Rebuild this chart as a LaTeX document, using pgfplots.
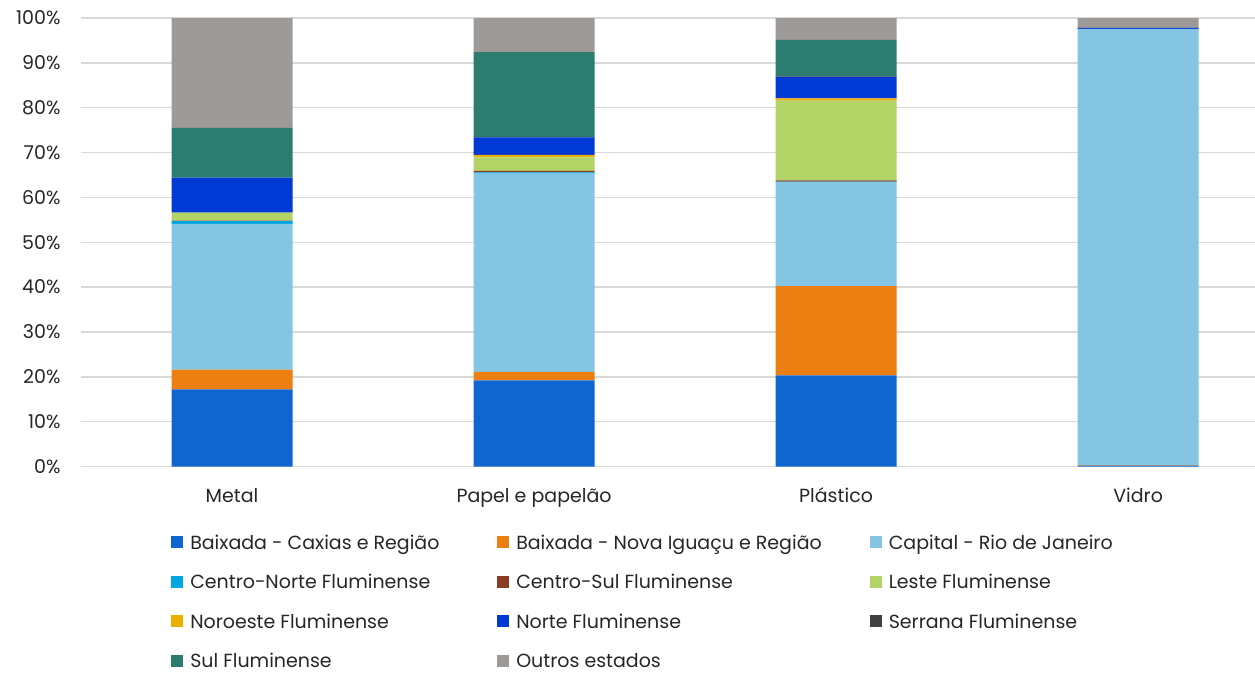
\documentclass[border=0pt]{standalone}
\usepackage{pgfplots}
\usepackage{pgfplotstable}
\pgfplotsset{compat=1.18}
\usepackage{fontspec}
\setmainfont{Poppins}
\definecolor{cCax}{HTML}{1066D0}
\definecolor{cNI}{HTML}{EB7F12}
\definecolor{cCap}{HTML}{84C5E3}
\definecolor{cCN}{HTML}{00A6E0}
\definecolor{cCS}{HTML}{8B3A23}
\definecolor{cLes}{HTML}{B2D366}
\definecolor{cNoro}{HTML}{EBB000}
\definecolor{cNor}{HTML}{0039D3}
\definecolor{cSer}{HTML}{404040}
\definecolor{cSul}{HTML}{2C7D70}
\definecolor{cOut}{HTML}{9E9A98}
\definecolor{gridgray}{HTML}{D9D9D9}
\definecolor{txt}{HTML}{262626}
\pgfplotstableread{
x Cax NI Cap CN CS Les Noro Nor Ser Sul Out
0 17.2 4.4 32.5 0.6 0.1 1.8 0.0 7.8 0.0 11.1 24.5
1 19.2 1.9 44.2 0.3 0.3 3.0 0.6 3.9 0.1 18.9 7.6
2 20.3 19.9 23.2 0.1 0.3 17.8 0.5 4.8 0.1 8.1 4.9
3 0.2 0.1 97.3 0.0 0.0 0.0 0.0 0.2 0.0 0.0 2.2
}\data
\begin{document}
\begin{tikzpicture}
\path[use as bounding box] (-81pt,-206.5pt) rectangle (1174pt,466.5pt);
\begin{axis}[
  scale only axis, width=1174pt, height=448.5pt,
  ybar stacked, bar width=121pt,
  xmin=-0.5, xmax=3.387, ymin=0, ymax=100,
  xtick={0,1,2,3}, xticklabels={Metal, Papel e papelão, Plástico, Vidro},
  ytick={0,10,...,100}, yticklabel={\pgfmathprintnumber{\tick}\%},
  /pgf/number format/assume math mode=true,
  ymajorgrids, grid style={color=gridgray, line width=1.5pt},
  axis line style={draw=none},
  major tick length=0pt,
  tick label style={font=\fontsize{19}{23}\selectfont, text=txt},
  yticklabel style={xshift=-17pt},
  xticklabel style={yshift=-18pt},
  legend columns=3,
  legend cell align=left,
  legend image code/.code={\fill[#1,draw=none] (0pt,-6pt) rectangle (12pt,6pt);},
  legend style={draw=none, fill=none, at={(0.0767,-0.1249)}, anchor=north west,
    font=\fontsize{19}{23}\selectfont, text=txt, inner sep=0pt,
    nodes={inner xsep=0pt, inner ysep=0pt, text height=26.5pt, text depth=13pt},
    /tikz/every odd column/.append style={column sep=7pt},
    /tikz/every even column/.append style={column sep=48pt}},
  every axis plot/.append style={draw=none},
]
\addplot[fill=cCax] table[x=x,y=Cax]{\data};
\addlegendentry{\makebox[259pt][l]{Baixada - Caxias e Região}}
\addplot[fill=cNI] table[x=x,y=NI]{\data};
\addlegendentry{Baixada - Nova Iguaçu e Região}
\addplot[fill=cCap] table[x=x,y=Cap]{\data};
\addlegendentry{Capital - Rio de Janeiro}
\addplot[fill=cCN] table[x=x,y=CN]{\data};
\addlegendentry{Centro-Norte Fluminense}
\addplot[fill=cCS] table[x=x,y=CS]{\data};
\addlegendentry{Centro-Sul Fluminense}
\addplot[fill=cLes] table[x=x,y=Les]{\data};
\addlegendentry{Leste Fluminense}
\addplot[fill=cNoro] table[x=x,y=Noro]{\data};
\addlegendentry{Noroeste Fluminense}
\addplot[fill=cNor] table[x=x,y=Nor]{\data};
\addlegendentry{Norte Fluminense}
\addplot[fill=cSer] table[x=x,y=Ser]{\data};
\addlegendentry{Serrana Fluminense}
\addplot[fill=cSul] table[x=x,y=Sul]{\data};
\addlegendentry{Sul Fluminense}
\addplot[fill=cOut] table[x=x,y=Out]{\data};
\addlegendentry{Outros estados}
\end{axis}
\end{tikzpicture}
\end{document}
